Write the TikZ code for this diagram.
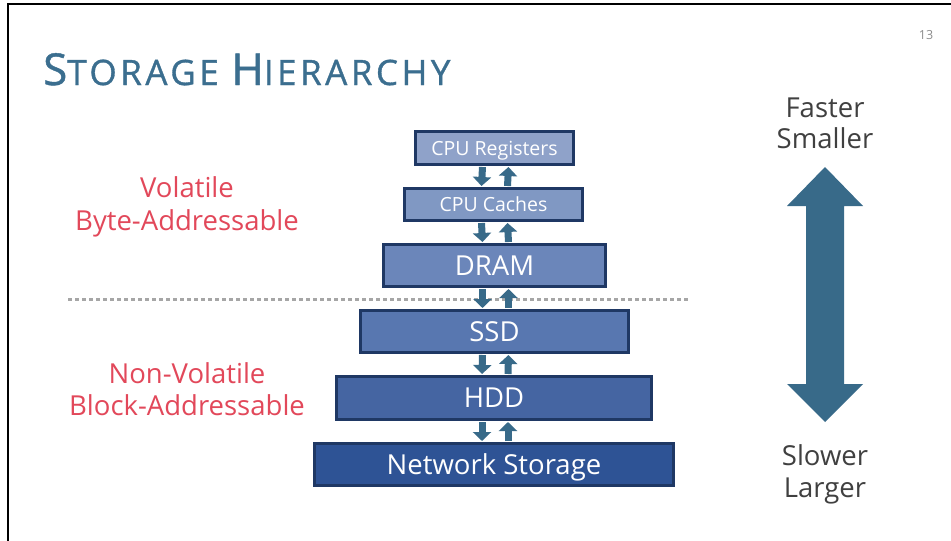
\documentclass[tikz,border=0pt]{standalone}
\usepackage{fontspec}
\setmainfont{Open Sans}
\newfontfamily\headingfont{Open Sans}[LetterSpace=10, FakeBold=1]
\usetikzlibrary{arrows.meta,calc}

\definecolor{titleblue}{RGB}{59,110,143}
\definecolor{arrowblue}{RGB}{56,106,137}
\definecolor{labelred}{RGB}{226,72,90}
\definecolor{edgenavy}{RGB}{31,56,100}
\definecolor{fillA}{RGB}{143,162,201}
\definecolor{fillB}{RGB}{128,152,195}
\definecolor{fillC}{RGB}{107,134,186}
\definecolor{fillD}{RGB}{88,119,176}
\definecolor{fillE}{RGB}{69,101,162}
\definecolor{fillF}{RGB}{46,83,149}
\definecolor{sidegray}{RGB}{64,64,64}
\definecolor{numgray}{RGB}{140,140,140}
\definecolor{dotgray}{RGB}{166,166,166}

\tikzset{
  tier/.style={draw=edgenavy, line width=3pt, text=white, inner sep=0pt, text depth=0pt},
  tiersmall/.style={tier, font=\fontsize{19.5}{22}\selectfont, text height=14pt},
  tierbig/.style={tier, font=\fontsize{27.5}{32}\selectfont, text height=19.7pt},
  redlabel/.style={text=labelred, font=\fontsize{27.5}{32}\selectfont, anchor=base, inner sep=0pt},
  sidelabel/.style={text=sidegray, font=\fontsize{27.5}{32}\selectfont, anchor=base, inner sep=0pt},
  flow/.style={arrowblue, line width=7pt, -{Triangle[width=18pt,length=9pt]}},
}

\begin{document}
\begin{tikzpicture}[x=1pt,y=-1pt]
\useasboundingbox (0,0) rectangle (951,541);
\fill[white] (0,0) rectangle (951,541);

% slide frame
\draw[line width=2.5pt] (8,541) -- (8,4) -- (951,4);

% title and page number
\node[anchor=base west, inner sep=0pt, text=titleblue, font=\headingfont] (title) at (43,85)
  {\fontsize{44}{44}\selectfont S\fontsize{35}{35}\selectfont TORAGE\ %
   \fontsize{44}{44}\selectfont H\fontsize{35}{35}\selectfont IERARCHY};
\node[anchor=base, inner sep=0pt, text=numgray, font=\fontsize{12.5}{14}\selectfont] (pageno) at (926,39) {13};

% storage tiers
\node[tiersmall, fill=fillA, minimum width=158pt, minimum height=33pt] (reg)  at (494.5,148)   {CPU Registers};
\node[tiersmall, fill=fillB, minimum width=178pt, minimum height=32pt] (cac)  at (493.5,204.5) {CPU Caches};
\node[tierbig,   fill=fillC, minimum width=222pt, minimum height=42pt] (dram) at (494.5,265.5) {DRAM};
\node[tierbig,   fill=fillD, minimum width=268pt, minimum height=42pt] (ssd)  at (494.5,331.5) {SSD};
\node[tierbig,   fill=fillE, minimum width=315pt, minimum height=43pt] (hdd)  at (494,398)     {HDD};
\node[tierbig,   fill=fillF, minimum width=359pt, minimum height=42pt] (net)  at (494,464.5)   {Network Storage};

% volatile / non-volatile divider
\coordinate (divL) at (68,299);
\coordinate (divR) at (690,299);
\draw[dotgray, line width=3pt, dash pattern=on 4pt off 3pt] (divL) -- (divR);

% up/down transfer arrows between neighbouring tiers
\foreach \upper/\lower in {reg/cac, cac/dram, dram/ssd, ssd/hdd, hdd/net}{
  \draw[flow] ($(\upper.south)+(-12,1)$) -- ($(\lower.north)+(-12,-1)$);
  \draw[flow] ($(\lower.north)+(14,-1)$) -- ($(\upper.south)+(14,1)$);
}

% category labels
\node[redlabel] (vol1)  at (187,197) {Volatile};
\node[redlabel] (vol2)  at (187,230) {Byte-Addressable};
\node[redlabel] (nvol1) at (187,383) {Non-Volatile};
\node[redlabel] (nvol2) at (187,415) {Block-Addressable};

% speed / size axis
\fill[arrowblue] (825,167) -- (863,206) -- (844,206) -- (844,384) -- (863,384)
  -- (825,422) -- (787,384) -- (806,384) -- (806,206) -- (787,206) -- cycle;
\node[sidelabel] (fast)  at (825,117) {Faster};
\node[sidelabel] (small) at (825,148) {Smaller};
\node[sidelabel] (slow)  at (825,465) {Slower};
\node[sidelabel] (large) at (825,497) {Larger};
\end{tikzpicture}
\end{document}
